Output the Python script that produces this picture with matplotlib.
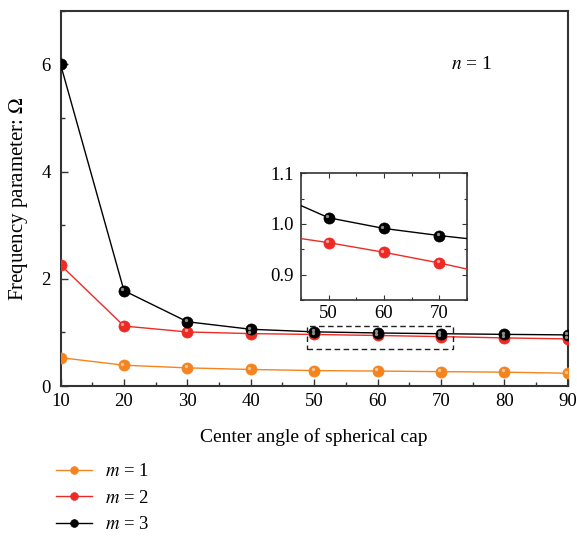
import numpy as np
import matplotlib
matplotlib.use('Agg')
import matplotlib.pyplot as plt
from matplotlib.patches import Rectangle
from matplotlib.ticker import MultipleLocator
import matplotlib.transforms as mtransforms

plt.rcParams['font.family'] = 'Liberation Serif'
plt.rcParams['mathtext.fontset'] = 'stix'

# center angle of spherical cap (deg)
angle = [10, 20, 30, 40, 50, 60, 70, 80, 90]
# frequency parameter for each m (n = 1)
omega_m1 = [0.53, 0.39, 0.34, 0.31, 0.29, 0.28, 0.27, 0.26, 0.24]
omega_m2 = [2.26, 1.12, 1.01, 0.979, 0.963, 0.944, 0.923, 0.899, 0.88]
omega_m3 = [6.00, 1.78, 1.20, 1.06, 1.012, 0.991, 0.977, 0.965, 0.955]
labels = ['$m$ = 1', '$m$ = 2', '$m$ = 3']
colors = ['#f5841f', '#ee2a24', '#000000']
series = [omega_m1, omega_m2, omega_m3]


def ball_plot(ax, x, y, c, lw, ms, label=None):
    # line with "3d ball" style markers
    ax.plot(x, y, '-', color=c, lw=lw, marker='o', ms=ms, mfc=c, mec=c,
            mew=0.5, label=label, zorder=3)
    tr = mtransforms.offset_copy(ax.transData, fig=ax.figure, x=-1.2, y=1.2, units='points')
    ax.plot(x, y, 'o', color='white', ms=ms * 0.3, alpha=0.55, mew=0,
            transform=tr, zorder=4)


fig = plt.figure(figsize=(5.77, 5.40), dpi=100)
ax = fig.add_axes([0.105, 0.285, 0.879, 0.695])

for s, c, lab in zip(series, colors, labels):
    ball_plot(ax, angle, s, c, 1.0, 8, lab)

ax.set_xlim(10, 90)
ax.set_ylim(0, 7)
ax.xaxis.set_major_locator(MultipleLocator(10))
ax.xaxis.set_minor_locator(MultipleLocator(5))
ax.yaxis.set_major_locator(MultipleLocator(2))
ax.yaxis.set_minor_locator(MultipleLocator(1))
ax.tick_params(which='both', direction='in', labelsize=13.5, color='#333333', width=1.0)
ax.tick_params(which='major', length=5)
ax.tick_params(which='minor', length=3)
ax.tick_params(axis='y', pad=7)
ax.tick_params(axis='x', pad=5)
for sp in ax.spines.values():
    sp.set_color('#333333')
    sp.set_linewidth(1.5)
ax.set_xlabel('Center angle of spherical cap', fontsize=14, labelpad=13)
ax.set_ylabel('Frequency parameter: $\\Omega$', fontsize=15, labelpad=8)
ax.text(74.8, 6.0, '$n$ = 1', fontsize=14, ha='center', va='center')

# dashed box marking the zoomed region
ax.add_patch(Rectangle((48.8, 0.70), 23.1, 0.43, fill=False, ls=(0, (4, 2.5)),
                       lw=1.0, ec='#222222', zorder=5))

# inset
axi = fig.add_axes([0.5217, 0.4444, 0.2877, 0.235])
for s, c in zip(series[1:], colors[1:]):
    ball_plot(axi, angle, s, c, 1.0, 8)
axi.set_xlim(45, 75)
axi.set_ylim(0.85, 1.1)
axi.xaxis.set_major_locator(MultipleLocator(10))
axi.xaxis.set_minor_locator(MultipleLocator(5))
axi.yaxis.set_major_locator(MultipleLocator(0.1))
axi.yaxis.set_minor_locator(MultipleLocator(0.05))
axi.yaxis.set_major_formatter(matplotlib.ticker.FormatStrFormatter('%.1f'))
axi.tick_params(which='both', direction='in', labelsize=13.5, top=True, right=True,
                color='#333333', width=0.8)
axi.tick_params(which='major', length=3.5)
axi.tick_params(which='minor', length=2)
axi.tick_params(axis='y', pad=5)
for sp in axi.spines.values():
    sp.set_color('#333333')
    sp.set_linewidth(1.2)

h, l = ax.get_legend_handles_labels()
fig.legend(h, l, loc='upper left', bbox_to_anchor=(0.075, 0.167), frameon=False,
           fontsize=13.5, handlelength=1.9, labelspacing=0.5, markerscale=0.7,
           handletextpad=0.7, borderaxespad=0.3)

fig.savefig('out.png', dpi=100)
